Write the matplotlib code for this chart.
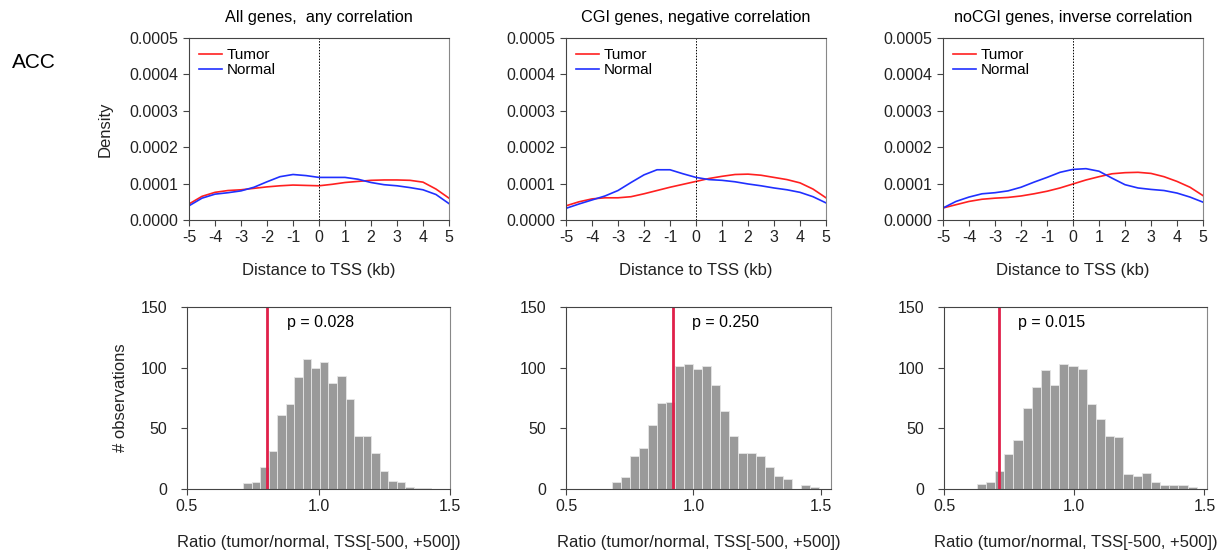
import numpy as np
import matplotlib.pyplot as plt

plt.rcParams['font.family'] = ['Liberation Sans', 'DejaVu Sans']
plt.rcParams['axes.unicode_minus'] = False

titles = ["All genes,  any correlation",
          "CGI genes, negative correlation",
          "noCGI genes, inverse correlation"]

# density curves (units of 1e-4)
dist_kb = [-5, -4.5, -4, -3.5, -3, -2.5, -2, -1.5, -1, -0.5, 0,
           0.5, 1, 1.5, 2, 2.5, 3, 3.5, 4, 4.5, 5]
tumor_y = [
    [0.44, 0.65, 0.76, 0.81, 0.83, 0.87, 0.91, 0.94, 0.96, 0.95, 0.94,
     0.98, 1.03, 1.06, 1.09, 1.10, 1.10, 1.09, 1.04, 0.85, 0.60],
    [0.39, 0.50, 0.58, 0.61, 0.61, 0.64, 0.72, 0.81, 0.90, 0.98, 1.06,
     1.14, 1.20, 1.25, 1.26, 1.23, 1.17, 1.11, 1.02, 0.85, 0.61],
    [0.33, 0.42, 0.51, 0.57, 0.60, 0.62, 0.66, 0.72, 0.79, 0.88, 0.99,
     1.10, 1.19, 1.27, 1.30, 1.31, 1.28, 1.19, 1.06, 0.90, 0.67],
]
normal_y = [
    [0.39, 0.60, 0.71, 0.75, 0.80, 0.90, 1.05, 1.19, 1.25, 1.22, 1.17,
     1.17, 1.17, 1.12, 1.03, 0.97, 0.94, 0.89, 0.83, 0.70, 0.45],
    [0.32, 0.44, 0.55, 0.66, 0.81, 1.03, 1.24, 1.38, 1.38, 1.27, 1.17,
     1.11, 1.09, 1.05, 0.99, 0.94, 0.88, 0.83, 0.76, 0.64, 0.47],
    [0.33, 0.51, 0.63, 0.72, 0.75, 0.80, 0.90, 1.04, 1.17, 1.31, 1.39,
     1.41, 1.34, 1.15, 0.97, 0.88, 0.84, 0.81, 0.74, 0.63, 0.49],
]

# permutation histograms
hist_start = [0.713, 0.680, 0.626]
hist_width = [0.0325, 0.0354, 0.0352]
hist_counts = [
    [5, 6, 18, 31, 61, 70, 92, 107, 100, 105, 87, 93, 74, 44, 44, 30, 15, 7, 6, 2, 1, 1],
    [6, 10, 27, 34, 53, 71, 72, 101, 103, 99, 101, 86, 64, 44, 30, 30, 27, 18, 11, 8, 0, 3, 2],
    [4, 6, 15, 29, 40, 67, 84, 98, 86, 103, 101, 99, 70, 58, 44, 43, 12, 11, 13, 6, 3, 3, 3, 2],
]
observed = [0.806, 0.919, 0.7095]
pvals = ["p = 0.028", "p = 0.250", "p = 0.015"]
hist_xmax = [1.5, 1.54, 1.51]

W, H = 1230, 553
fig = plt.figure(figsize=(W / 100, H / 100), dpi=100)

top_left = [189, 566, 943]
top_w = 260
bot_left = [187, 566, 944]
bot_right = [450, 831, 1207]


def style(ax):
    for s in ['left', 'bottom', 'top']:
        ax.spines[s].set_color('#444444')
    ax.spines['right'].set_color('#888888')
    ax.tick_params(direction='out', length=4, color='#444444', labelsize=11.5,
                   labelcolor='#222222')


fig.text(12 / W, 1 - 62 / H, "ACC", fontsize=15, va='center', ha='left')

for i in range(3):
    ax = fig.add_axes([top_left[i] / W, 1 - 220 / H, top_w / W, 182 / H])
    ax.plot(dist_kb, np.array(tumor_y[i]) * 1e-4, color='#ff2020', lw=1.2, label='Tumor')
    ax.plot(dist_kb, np.array(normal_y[i]) * 1e-4, color='#2030ff', lw=1.2, label='Normal')
    ax.axvline(0, color='black', lw=0.7, ls=(0, (1.5, 1.5)))
    ax.set_xlim(-5, 5)
    ax.set_ylim(0, 0.0005)
    ax.set_xticks(range(-5, 6))
    ax.set_yticks([0, 0.0001, 0.0002, 0.0003, 0.0004, 0.0005])
    ax.set_yticklabels(["0.0000", "0.0001", "0.0002", "0.0003", "0.0004", "0.0005"])
    ax.set_title(titles[i], fontsize=11.7, pad=11.5)
    ax.set_xlabel("Distance to TSS (kb)", fontsize=12, labelpad=13, color='#222222')
    if i == 0:
        ax.set_ylabel("Density", fontsize=12, labelpad=12, color='#222222')
    ax.legend(loc='upper left', frameon=False, fontsize=11, handlelength=1.5,
              borderaxespad=0.25, labelspacing=0.1, handletextpad=0.3)
    style(ax)

    bx = fig.add_axes([bot_left[i] / W, 1 - 489 / H,
                       (bot_right[i] - bot_left[i]) / W, 182 / H])
    edges = hist_start[i] + hist_width[i] * np.arange(len(hist_counts[i]))
    bx.bar(edges, hist_counts[i], width=hist_width[i], align='edge',
           color='#9a9a9a', edgecolor='#e6e6e6', linewidth=0.6)
    bx.axvline(observed[i], color='#e0204a', lw=2)
    bx.text(observed[i] + 0.075, 137, pvals[i], fontsize=11.5, va='center')
    bx.set_xlim(0.5, hist_xmax[i])
    bx.set_ylim(0, 150)
    bx.set_xticks([0.5, 1.0, 1.5])
    bx.set_xticklabels(["0.5", "1.0", "1.5"])
    bx.set_yticks([0, 50, 100, 150])
    bx.set_xlabel("Ratio (tumor/normal, TSS[-500, +500])", fontsize=12,
                  labelpad=15, color='#222222')
    if i == 0:
        bx.set_ylabel("# observations", fontsize=12, labelpad=9, color='#222222')
    style(bx)
    bx.tick_params(axis='y', pad=10)

fig.savefig("out.png", dpi=100)
